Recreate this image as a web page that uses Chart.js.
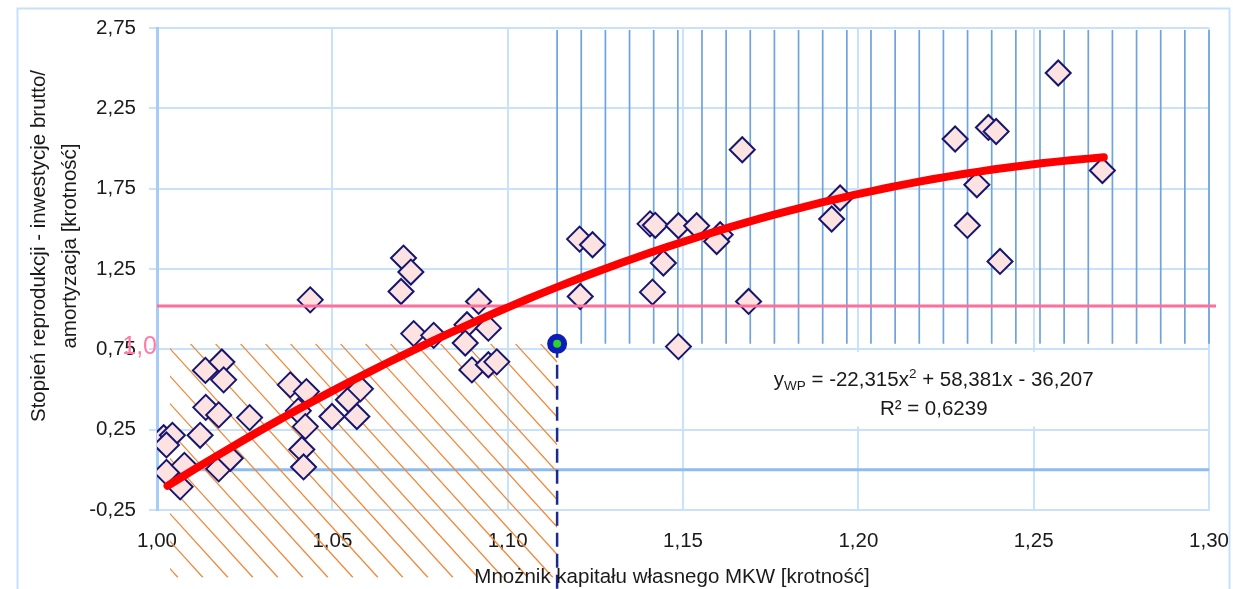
<!DOCTYPE html>
<html>
<head>
<meta charset="utf-8">
<script src="https://cdn.jsdelivr.net/npm/chart.js@4/dist/chart.umd.min.js"></script>
<style>
  html, body { margin: 0; padding: 0; background: #ffffff; }
  canvas { display: block; }
</style>
</head>
<body>
<canvas id="chart" width="1233" height="589"></canvas>
<script>
// Axis ticks
const xTickValues = [1.00, 1.05, 1.10, 1.15, 1.20, 1.25, 1.30];
const yTickValues = [-0.25, 0.25, 0.75, 1.25, 1.75, 2.25, 2.75];

// Companies: equity multiplier (MKW) and reproduction ratio (gross investment / depreciation)
const mkw = [
  1.0019, 1.0044, 1.0027, 1.0027, 1.0078, 1.0066, 1.0123, 1.0138, 1.0185, 1.0190,
  1.0139, 1.0176, 1.0264, 1.0176, 1.0209,
  1.0380, 1.0426, 1.0403, 1.0423, 1.0413, 1.0418, 1.0437,
  1.0499, 1.0546, 1.0580, 1.0570,
  1.0703, 1.0724, 1.0696, 1.0732, 1.0789,
  1.0917, 1.0884, 1.0945, 1.0879, 1.0898, 1.0945, 1.0969,
  1.1205, 1.1242, 1.1207, 1.1406, 1.1421, 1.1487, 1.1539, 1.1606, 1.1596, 1.1444,
  1.1413, 1.1487, 1.1669, 1.1687,
  1.1948, 1.1924, 1.2276, 1.2371, 1.2393, 1.2570, 1.2696, 1.2338, 1.2311, 1.2404
];
const reproduction = [
  0.200, 0.215, 0.155, -0.016, 0.028, -0.106, 0.215, 0.619, 0.671, 0.560,
  0.389, 0.342, 0.325, 0.006, 0.072,
  0.529, 0.487, 0.367, 0.269, 0.127, 0.018, 1.058,
  0.332, 0.436, 0.504, 0.332,
  1.318, 1.231, 1.110, 0.848, 0.837,
  1.048, 0.903, 0.882, 0.789, 0.622, 0.654, 0.672,
  1.436, 1.401, 1.079, 1.531, 1.522, 1.519, 1.519, 1.463, 1.421, 1.287,
  1.106, 0.767, 1.992, 1.048,
  1.692, 1.561, 2.059, 2.131, 2.106, 2.470, 1.863, 1.774, 1.521, 1.297
];

// Quadratic trend y = a*x^2 + b*x + c and the x span it covers
const trendCoef = [-22.315, 58.381, -36.207];
const trendSpan = [1.003, 1.270];
const trendSteps = 60;

// Threshold point and the reference level line
const thresholdX = 1.1141;
const thresholdY = 0.784;
const levelY = 1.02;
const levelSpan = [1.00, 1.302];

// Hatched zones
const hatchLeftX = 1.0037;
const hatchBottomY = -0.67;
const stripeCount = 27;

const FONT = "'Liberation Sans', Arial, sans-serif";
const TEXT = '#1a1a1a';
const GRID = '#c9e2fc';

const scatterData = mkw.map((v, i) => ({ x: v, y: reproduction[i] }));
const trendData = [];
for (let i = 0; i <= trendSteps; i++) {
  const xv = trendSpan[0] + (trendSpan[1] - trendSpan[0]) * i / trendSteps;
  trendData.push({ x: xv, y: trendCoef[0] * xv * xv + trendCoef[1] * xv + trendCoef[2] });
}
const fmt = v => Number(v).toFixed(2).replace('.', ',');
const fmt3 = v => Math.abs(v).toFixed(3).replace('.', ',');

const decor = {
  id: 'decor',
  beforeDatasetsDraw(chart) {
    const { ctx, chartArea: a, scales: { x, y } } = chart;
    ctx.save();
    // horizontal axis line crossing at zero
    const y0 = y.getPixelForValue(0);
    ctx.strokeStyle = '#8fbcef';
    ctx.lineWidth = 3;
    ctx.beginPath(); ctx.moveTo(a.left, y0); ctx.lineTo(a.right, y0); ctx.stroke();

    // white box behind the equation
    const eqCx = x.getPixelForValue(1.2215);
    const boxTop = y.getPixelForValue(0.735), boxBot = y.getPixelForValue(0.27);
    ctx.fillStyle = '#ffffff';
    ctx.fillRect(eqCx - 172, boxTop, 344, boxBot - boxTop);

    // diagonal hatch: left-bottom zone
    const tx = x.getPixelForValue(thresholdX), ty = y.getPixelForValue(thresholdY);
    const hx0 = x.getPixelForValue(hatchLeftX), hy1 = y.getPixelForValue(hatchBottomY);
    ctx.save();
    ctx.beginPath(); ctx.rect(hx0, ty, tx - hx0, hy1 - ty); ctx.clip();
    ctx.strokeStyle = '#ef8a3c';
    ctx.lineWidth = 1.3;
    const slope = 1.1, step = 25, h = hy1 - ty;
    ctx.beginPath();
    for (let sx = hx0 + 8 - h / slope - step * 2; sx < tx + step; sx += step) {
      ctx.moveTo(sx, ty);
      ctx.lineTo(sx + h / slope, hy1);
    }
    ctx.stroke();
    ctx.restore();

    // vertical stripes: right-top zone
    const xr = x.getPixelForValue(1.30);
    ctx.strokeStyle = '#6fa3dc';
    ctx.lineWidth = 1.7;
    ctx.beginPath();
    for (let i = 0; i <= stripeCount; i++) {
      const px = tx + (xr - tx) * i / stripeCount;
      ctx.moveTo(px, a.top + 2);
      ctx.lineTo(px, ty);
    }
    ctx.stroke();
    ctx.restore();
  },
  afterDraw(chart) {
    const { ctx, chartArea: a, scales: { x, y } } = chart;
    ctx.save();
    ctx.fillStyle = TEXT;

    // trend equation
    const eqCx = x.getPixelForValue(1.2215);
    const base1 = y.getPixelForValue(0.523), base2 = y.getPixelForValue(0.342);
    const big = `20.5px ${FONT}`, small = `13.5px ${FONT}`;
    const parts = [
      ['y', big, 0],
      ['WP', small, 4],
      [` = -${fmt3(trendCoef[0])}x`, big, 0],
      ['2', small, -8],
      [` + ${fmt3(trendCoef[1])}x - ${fmt3(trendCoef[2])}`, big, 0]
    ];
    let total = 0;
    parts.forEach(p => { ctx.font = p[1]; total += ctx.measureText(p[0]).width; });
    let cx = eqCx - total / 2;
    ctx.textBaseline = 'alphabetic';
    ctx.textAlign = 'left';
    parts.forEach(p => {
      ctx.font = p[1];
      ctx.fillText(p[0], cx, base1 + p[2]);
      cx += ctx.measureText(p[0]).width;
    });
    ctx.font = big;
    ctx.textAlign = 'center';
    ctx.fillText('R² = 0,6239', eqCx, base2);

    // level label
    ctx.fillStyle = '#ff7aa6';
    ctx.font = `25px ${FONT}`;
    ctx.textAlign = 'right';
    ctx.textBaseline = 'middle';
    ctx.fillText('1,0', a.left, y.getPixelForValue(0.75) - 2);

    // axis titles
    ctx.fillStyle = TEXT;
    ctx.font = big;
    ctx.textAlign = 'center';
    ctx.textBaseline = 'alphabetic';
    ctx.fillText('Mnożnik kapitału własnego MKW [krotność]', 672, 583);
    ctx.textBaseline = 'middle';
    [['Stopień reprodukcji - inwestycje brutto/', 39], ['amortyzacja [krotność]', 70]].forEach(([t, px]) => {
      ctx.save();
      ctx.translate(px, 246);
      ctx.rotate(-Math.PI / 2);
      ctx.fillText(t, 0, 0);
      ctx.restore();
    });

    // outer frame
    ctx.strokeStyle = '#c5e0fb';
    ctx.lineWidth = 2;
    ctx.strokeRect(17.5, 8.5, 1212, 620);
    ctx.restore();
  }
};

new Chart(document.getElementById('chart'), {
  type: 'scatter',
  data: {
    datasets: [
      {
        label: 'próg',
        data: [{ x: thresholdX, y: thresholdY }],
        pointRadius: 7,
        pointBorderWidth: 6,
        pointBackgroundColor: '#2bd42b',
        pointBorderColor: '#0b1db8',
        order: 0
      },
      {
        label: 'trend',
        data: trendData,
        showLine: true,
        borderColor: '#ff0000',
        borderWidth: 8,
        borderCapStyle: 'round',
        pointRadius: 0,
        order: 1
      },
      {
        label: 'pionowa',
        data: [{ x: thresholdX, y: thresholdY }, { x: thresholdX, y: -0.76 }],
        showLine: true,
        borderColor: '#1b2a8c',
        borderWidth: 2.5,
        borderDash: [14, 7],
        pointRadius: 0,
        clip: false,
        order: 2
      },
      {
        label: 'poziom 1,0',
        data: [{ x: levelSpan[0], y: levelY }, { x: levelSpan[1], y: levelY }],
        showLine: true,
        borderColor: '#ff6f9a',
        borderWidth: 3,
        pointRadius: 0,
        clip: false,
        order: 3
      },
      {
        label: 'spółki',
        data: scatterData,
        pointStyle: 'rectRot',
        pointRadius: 12.5,
        pointBorderWidth: 2,
        pointBorderColor: '#16166e',
        pointBackgroundColor: '#fde2e2',
        order: 4
      }
    ]
  },
  options: {
    responsive: false,
    animation: false,
    events: [],
    layout: { padding: { top: 28, right: 24, left: 0, bottom: 0 } },
    plugins: { legend: { display: false }, tooltip: { enabled: false } },
    scales: {
      x: {
        type: 'linear',
        min: 1.0,
        max: 1.3,
        afterBuildTicks: s => { s.ticks = xTickValues.map(v => ({ value: v })); },
        afterFit: s => { s.height = 79; s.paddingLeft = 0; s.paddingRight = 0; },
        ticks: {
          callback: v => fmt(v),
          font: { family: FONT, size: 20.5 },
          color: TEXT,
          padding: 19,
          maxRotation: 0,
          autoSkip: false
        },
        grid: { color: GRID, lineWidth: 2, drawTicks: false },
        border: { color: GRID, width: 2 }
      },
      y: {
        type: 'linear',
        min: -0.25,
        max: 2.75,
        afterBuildTicks: s => { s.ticks = yTickValues.map(v => ({ value: v })); },
        afterFit: s => { s.width = 157; },
        ticks: {
          callback: v => fmt(v),
          font: { family: FONT, size: 20.5 },
          color: TEXT,
          padding: 13,
          autoSkip: false
        },
        grid: { color: GRID, lineWidth: 2, tickLength: 8 },
        border: { color: '#a6cdf7', width: 3 }
      }
    }
  },
  plugins: [decor]
});
</script>
</body>
</html>
